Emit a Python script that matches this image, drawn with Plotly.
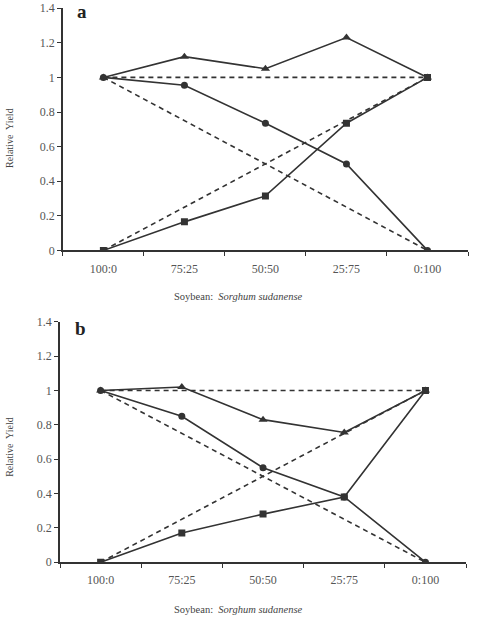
import plotly.graph_objects as go

categories = ["100:0", "75:25", "50:50", "25:75", "0:100"]

# Panel a
a_total = [1.0, 1.12, 1.05, 1.23, 1.0]
a_soy = [1.0, 0.955, 0.735, 0.5, 0.0]
a_sorg = [0.0, 0.165, 0.315, 0.735, 1.0]

# Panel b
b_total = [1.0, 1.02, 0.83, 0.755, 1.0]
b_soy = [1.0, 0.85, 0.55, 0.38, 0.0]
b_sorg = [0.0, 0.17, 0.28, 0.38, 1.0]

# Expected (dashed) reference lines
exp_total = [1.0, 1.0]
exp_soy = [1.0, 0.0]
exp_sorg = [0.0, 1.0]
exp_x = [categories[0], categories[-1]]

yticks = [0, 0.2, 0.4, 0.6, 0.8, 1.0, 1.2, 1.4]
yticktext = ["0", "0.2", "0.4", "0.6", "0.8", "1", "1.2", "1.4"]

LC = "#333333"
FONT = "Liberation Serif"

fig = go.Figure()


def add_panel(xa, ya, total, soy, sorg):
    for ys in (exp_total, exp_soy, exp_sorg):
        fig.add_trace(go.Scatter(x=exp_x, y=ys, mode="lines", xaxis=xa, yaxis=ya,
                                 line=dict(color=LC, width=1.6, dash="5px,4px"),
                                 showlegend=False, hoverinfo="skip"))
    fig.add_trace(go.Scatter(x=categories, y=total, mode="lines+markers", xaxis=xa, yaxis=ya,
                             line=dict(color=LC, width=1.6),
                             marker=dict(symbol="triangle-up", size=8, color=LC),
                             showlegend=False))
    fig.add_trace(go.Scatter(x=categories, y=soy, mode="lines+markers", xaxis=xa, yaxis=ya,
                             line=dict(color=LC, width=1.6),
                             marker=dict(symbol="circle", size=7, color=LC),
                             showlegend=False))
    fig.add_trace(go.Scatter(x=categories, y=sorg, mode="lines+markers", xaxis=xa, yaxis=ya,
                             line=dict(color=LC, width=1.6),
                             marker=dict(symbol="square", size=7, color=LC),
                             showlegend=False))


add_panel("x", "y", a_total, a_soy, a_sorg)
add_panel("x2", "y2", b_total, b_soy, b_sorg)

xcommon = dict(type="category", categoryorder="array", categoryarray=categories,
               range=[-0.5, 4.5], tickson="boundaries",
               showline=True, linecolor=LC, linewidth=1.5, ticks="outside",
               ticklen=4, tickcolor=LC, tickwidth=1.2, showgrid=False, zeroline=False,
               ticklabelstandoff=6,
               tickfont=dict(family=FONT, size=12, color="#555555"), fixedrange=True)
ycommon = dict(range=[0, 1.4], tickvals=yticks, ticktext=yticktext,
               showline=True, linecolor=LC, linewidth=1.5, ticks="outside",
               ticklen=4, tickcolor=LC, tickwidth=1.2, showgrid=False, zeroline=False,
               tickfont=dict(family=FONT, size=12, color="#555555"), fixedrange=True)

fig.update_layout(
    width=480, height=621,
    margin=dict(l=0, r=0, t=0, b=0),
    paper_bgcolor="white", plot_bgcolor="white",
    xaxis=dict(domain=[0.131, 0.975], anchor="y", **xcommon),
    yaxis=dict(domain=[0.599, 0.998], anchor="x", **ycommon),
    xaxis2=dict(domain=[0.125, 0.971], anchor="y2", **xcommon),
    yaxis2=dict(domain=[0.0853, 0.4815], anchor="x2", **ycommon),
)

annos = [
    dict(text="<b>a</b>", x=82, y=621 - 5, size=19),
    dict(text="<b>b</b>", x=80, y=621 - 329, size=19),
]
for an in annos:
    fig.add_annotation(text=an["text"], x=an["x"] / 480, y=an["y"] / 621, xref="paper", yref="paper",
                       showarrow=False, xanchor="center", yanchor="middle",
                       font=dict(family=FONT, size=an["size"], color="#222222"))

for yy in (296, 616):
    fig.add_annotation(text="Soybean:  <i>Sorghum sudanense</i>", x=238 / 480, y=(621 - yy) / 621,
                       xref="paper", yref="paper", showarrow=False, xanchor="center", yanchor="middle",
                       font=dict(family=FONT, size=10.5, color="#444444"))

for yy in (134, 450):
    fig.add_annotation(text="Relative  Yield", x=10 / 480, y=(621 - yy) / 621, textangle=-90,
                       xref="paper", yref="paper", showarrow=False, xanchor="center", yanchor="middle",
                       font=dict(family=FONT, size=10, color="#444444"))

fig.write_html("out.html")
